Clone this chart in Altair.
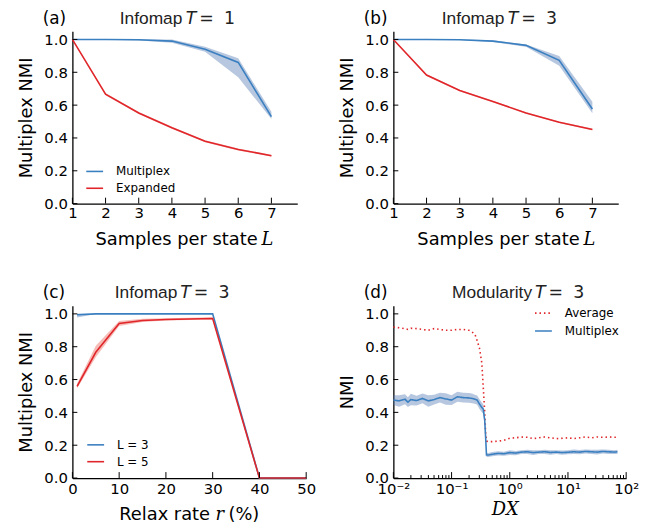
import altair as alt
import pandas as pd

# ---------------- data ----------------
L_VALUES = [1, 2, 3, 4, 5, 6, 7]

A_MULTIPLEX = [1.0, 1.0, 0.998, 0.99, 0.94, 0.86, 0.53]
A_MULTIPLEX_LO = [1.0, 0.998, 0.994, 0.98, 0.925, 0.77, 0.515]
A_MULTIPLEX_HI = [1.0, 1.0, 1.0, 1.0, 0.955, 0.885, 0.56]
A_EXPANDED = [1.0, 0.667, 0.552, 0.462, 0.38, 0.33, 0.292]
A_EXPANDED_LO = [1.0, 0.66, 0.546, 0.456, 0.374, 0.324, 0.287]
A_EXPANDED_HI = [1.0, 0.672, 0.558, 0.468, 0.386, 0.336, 0.297]

B_MULTIPLEX = [1.0, 1.0, 0.998, 0.99, 0.964, 0.873, 0.576]
B_MULTIPLEX_LO = [1.0, 0.999, 0.996, 0.985, 0.955, 0.84, 0.55]
B_MULTIPLEX_HI = [1.0, 1.0, 1.0, 0.995, 0.97, 0.9, 0.62]
B_EXPANDED = [1.0, 0.783, 0.689, 0.622, 0.552, 0.496, 0.452]
B_EXPANDED_LO = [1.0, 0.778, 0.684, 0.617, 0.547, 0.491, 0.447]
B_EXPANDED_HI = [1.0, 0.788, 0.694, 0.627, 0.557, 0.501, 0.457]

R_VALUES = [1, 5, 10, 15, 20, 25, 30, 40, 50]
C_L3 = [0.995, 1.0, 1.0, 1.0, 1.0, 1.0, 1.0, 0.0, 0.0]
C_L3_LO = [0.978, 0.999, 1.0, 1.0, 1.0, 1.0, 1.0, 0.0, 0.0]
C_L3_HI = [1.0, 1.0, 1.0, 1.0, 1.0, 1.0, 1.0, 0.0, 0.0]
C_L5 = [0.559, 0.766, 0.942, 0.96, 0.966, 0.969, 0.972, 0.0, 0.0]
C_L5_LO = [0.545, 0.736, 0.926, 0.95, 0.96, 0.963, 0.965, 0.0, 0.0]
C_L5_HI = [0.575, 0.806, 0.956, 0.97, 0.974, 0.977, 0.98, 0.0, 0.0]

DX_EXP = [-2.0, -1.9, -1.8, -1.75, -1.7, -1.6, -1.5, -1.4, -1.3, -1.2, -1.1, -1.0,
          -0.9, -0.8, -0.7, -0.65, -0.6, -0.56, -0.52, -0.48, -0.455, -0.43, -0.415,
          -0.4, -0.37, -0.3, -0.2, -0.1, 0.0, 0.1, 0.2, 0.3, 0.4, 0.5, 0.6, 0.7, 0.8,
          0.9, 1.0, 1.1, 1.2, 1.3, 1.4, 1.5, 1.6, 1.7, 1.8, 1.85]
D_AVERAGE = [0.92, 0.915, 0.91, 0.905, 0.912, 0.91, 0.905, 0.9, 0.91, 0.905, 0.9, 0.9,
             0.905, 0.905, 0.9, 0.89, 0.877, 0.837, 0.79, 0.70, 0.55, 0.40, 0.277,
             0.225, 0.222, 0.222, 0.225, 0.23, 0.243, 0.245, 0.25, 0.248, 0.24, 0.245,
             0.25, 0.245, 0.24, 0.242, 0.245, 0.24, 0.245, 0.25, 0.245, 0.25, 0.248,
             0.25, 0.248, 0.25]
D_MULTIPLEX = [0.475, 0.47, 0.48, 0.462, 0.478, 0.472, 0.485, 0.47, 0.478, 0.49, 0.482,
               0.475, 0.495, 0.49, 0.488, 0.485, 0.48, 0.475, 0.45, 0.43, 0.42, 0.35,
               0.25, 0.14, 0.14, 0.145, 0.15, 0.148, 0.155, 0.152, 0.158, 0.16, 0.155,
               0.158, 0.16, 0.156, 0.158, 0.155, 0.157, 0.16, 0.158, 0.162, 0.16, 0.158,
               0.162, 0.16, 0.158, 0.16]
D_MULTIPLEX_ERR = [0.03, 0.035, 0.03, 0.03, 0.035, 0.03, 0.03, 0.035, 0.03, 0.03, 0.035,
                   0.03, 0.03, 0.03, 0.03, 0.03, 0.028, 0.028, 0.03, 0.03, 0.03, 0.03,
                   0.02, 0.012, 0.012, 0.013, 0.013, 0.012, 0.014, 0.013, 0.012, 0.013,
                   0.014, 0.012, 0.013, 0.014, 0.012, 0.013, 0.012, 0.014, 0.013, 0.012,
                   0.013, 0.014, 0.012, 0.013, 0.012, 0.013]

Y_TICKS = [0.0, 0.2, 0.4, 0.6, 0.8, 1.0]
X_TICKS_L = [1, 2, 3, 4, 5, 6, 7]
X_TICKS_R = [0, 10, 20, 30, 40, 50]
X_TICKS_DX_MAJOR = [0.01, 0.1, 1, 10, 100]
X_TICKS_DX_MINOR = [m * d for d in [0.01, 0.1, 1, 10] for m in range(2, 10)]

# ---------------- style ----------------
FONT = "DejaVu Sans"
SERIF = "DejaVu Serif"
TFONT = "Liberation Sans"
BLUE = "#3a7fc0"
RED = "#e0262a"
BLUE_BAND = "#4c72b0"
RED_BAND = "#e8584a"
W_L, W_R, W_D = 227, 236, 235
H = 174
YSCALE = alt.Scale(domain=[0, 1.05], nice=False, zero=False)
ONE = pd.DataFrame({"k": [0]})


def frame(xs, series):
    rows = []
    for name, (mid, lo, hi) in series:
        for x, m, l, h in zip(xs, mid, lo, hi):
            rows.append({"x": x, "y": m, "lo": l, "hi": h, "series": name})
    return pd.DataFrame(rows)


def txt(text, x, y, size=18, font=FONT, style="normal", align="left", color="black"):
    return alt.Chart(ONE).mark_text(
        text=text, align=align, baseline="alphabetic", fontSize=size, font=font,
        fontStyle=style, color=color
    ).encode(x=alt.value(x), y=alt.value(y))


def title_parts(letter, word, word_right, t_x, num):
    y = -7.5
    return [
        txt(letter, -30, y, size=17),
        txt(word, word_right, y, size=17.5, font=TFONT, align="right", color="#222"),
        txt("T", t_x, y, size=17.5, style="italic", color="#222"),
        txt("=", t_x + 13.5, y, size=17.5, color="#222"),
        txt(num, t_x + 38.5, y, size=17.5, color="#222"),
    ]


def legend(lx, ly, row_pad=1):
    return alt.Legend(title=None, orient="none", legendX=lx, legendY=ly,
                      symbolType="stroke", symbolSize=289, symbolStrokeWidth=1.6,
                      labelFontSize=12, labelFont=FONT, labelColor="black",
                      labelOffset=12, rowPadding=row_pad)


def panel(df, order, colors, bcolors, xscale, xaxis, width, leg, xticks, texts,
          y_title="Multiplex NMI", dash=None, minor_ticks=None):
    yaxis = alt.Axis(title=y_title, values=Y_TICKS, format=".1f",
                     labelPadding=5, titlePadding=8, labelOverlap=False)
    base = alt.Chart(df)
    layers = []
    for name, bc in zip(order, bcolors):
        if bc is None:
            continue
        layers.append(base.mark_area(opacity=0.4, color=bc)
                      .transform_filter(alt.datum.series == name).encode(
            x=alt.X("x:Q", scale=xscale, axis=xaxis),
            y=alt.Y("lo:Q", scale=YSCALE, axis=yaxis),
            y2="hi:Q"))
    enc = dict(
        x=alt.X("x:Q", scale=xscale, axis=xaxis),
        y=alt.Y("y:Q", scale=YSCALE, axis=yaxis),
        color=alt.Color("series:N", scale=alt.Scale(domain=order, range=colors), legend=leg),
    )
    if dash is not None:
        enc["strokeDash"] = alt.StrokeDash("series:N", scale=alt.Scale(domain=order, range=dash),
                                           legend=leg)
    layers.append(base.mark_line(strokeWidth=1.6).encode(**enc))
    layers.append(alt.Chart(pd.DataFrame({"v": Y_TICKS})).mark_rule(
        color="black", strokeWidth=1).encode(
        y=alt.Y("v:Q", scale=YSCALE, axis=yaxis), x=alt.value(0), x2=alt.value(5)))
    layers.append(alt.Chart(pd.DataFrame({"v": xticks})).mark_rule(
        color="black", strokeWidth=1).encode(
        x=alt.X("v:Q", scale=xscale, axis=xaxis), y=alt.value(H), y2=alt.value(H - 6)))
    if minor_ticks is not None:
        layers.append(alt.Chart(pd.DataFrame({"v": minor_ticks})).mark_rule(
            color="black", strokeWidth=1).encode(
            x=alt.X("v:Q", scale=xscale, axis=xaxis), y=alt.value(H), y2=alt.value(H - 3)))
    layers += texts
    return alt.layer(*layers).properties(width=width, height=H)


# ---------------- panels ----------------
L_SCALE = alt.Scale(domain=[1, 7.78], nice=False, zero=False)
L_AXIS = alt.Axis(title=None, values=X_TICKS_L, format="d", labelOverlap=False, labelPadding=2)

df_a = frame(L_VALUES, [("Multiplex", (A_MULTIPLEX, A_MULTIPLEX_LO, A_MULTIPLEX_HI)),
                        ("Expanded", (A_EXPANDED, A_EXPANDED_LO, A_EXPANDED_HI))])
pa = panel(df_a, ["Multiplex", "Expanded"], [BLUE, RED], [BLUE_BAND, RED_BAND],
           L_SCALE, L_AXIS, W_L, legend(13, 132), X_TICKS_L,
           title_parts("(a)", "Infomap", 111, 114.5, "1")
           + [txt("Samples per state", 187, 216, align="right"),
              txt("L", 191, 216, font=SERIF, style="italic")])

df_b = frame(L_VALUES, [("Multiplex", (B_MULTIPLEX, B_MULTIPLEX_LO, B_MULTIPLEX_HI)),
                        ("Expanded", (B_EXPANDED, B_EXPANDED_LO, B_EXPANDED_HI))])
pb = panel(df_b, ["Multiplex", "Expanded"], [BLUE, RED], [BLUE_BAND, RED_BAND],
           L_SCALE, L_AXIS, W_L, None, X_TICKS_L,
           title_parts("(b)", "Infomap", 112, 115.5, "3")
           + [txt("Samples per state", 188, 216, align="right"),
              txt("L", 192, 216, font=SERIF, style="italic")])

R_SCALE = alt.Scale(domain=[0, 50], nice=False, zero=False)
R_AXIS = alt.Axis(title=None, values=X_TICKS_R, format="d", labelOverlap=False)
df_c = frame(R_VALUES, [("L = 3", (C_L3, C_L3_LO, C_L3_HI)),
                        ("L = 5", (C_L5, C_L5_LO, C_L5_HI))])
pc = panel(df_c, ["L = 3", "L = 5"], [BLUE, RED], [BLUE_BAND, RED_BAND],
           R_SCALE, R_AXIS, W_R, legend(14, 131), X_TICKS_R,
           title_parts("(c)", "Infomap", 106, 109, "3")
           + [txt("Relax rate", 139, 216.5, align="right"),
              txt("r", 144.5, 216.5, font=SERIF, style="italic"),
              txt("(%)", 157.5, 216.5)])

DX_VALUES = [10 ** e for e in DX_EXP]
df_d = pd.concat([
    frame(DX_VALUES, [("Average", (D_AVERAGE, D_AVERAGE, D_AVERAGE))]),
    frame(DX_VALUES, [("Multiplex", (D_MULTIPLEX,
                                     [m - e for m, e in zip(D_MULTIPLEX, D_MULTIPLEX_ERR)],
                                     [m + e for m, e in zip(D_MULTIPLEX, D_MULTIPLEX_ERR)]))]),
], ignore_index=True)
D_SCALE = alt.Scale(type="log", domain=[0.01, 100], nice=False)
D_AXIS = alt.Axis(
    title=None, values=X_TICKS_DX_MAJOR, labelOverlap=False,
    labelExpr="datum.value < 0.05 ? '10⁻²' : datum.value < 0.5 ? '10⁻¹' : "
              "datum.value < 5 ? '10⁰' : datum.value < 50 ? '10¹' : '10²'")
pd_ = panel(df_d, ["Average", "Multiplex"], [RED, BLUE], [None, BLUE_BAND],
            D_SCALE, D_AXIS, W_D, legend(142, -2, row_pad=2), X_TICKS_DX_MAJOR,
            title_parts("(d)", "Modularity", 140, 143, "3")
            + [txt("DX", 113, 211, font=SERIF, style="italic", align="center")],
            y_title="NMI", dash=[[1.5, 3], [1, 0]], minor_ticks=X_TICKS_DX_MINOR)

RES = dict(color="independent", strokeDash="independent")

chart = (
    alt.concat(pa, pb, pc, pd_, columns=2, spacing={"row": 35, "column": 23})
    .resolve_scale(**RES).resolve_legend(**RES)
    .properties(padding={"left": 10, "top": -1, "right": 5, "bottom": 5})
    .configure(font=FONT)
    .configure_view(stroke=None)
    .configure_axis(grid=False, ticks=False, tickSize=0, domainColor="black", domainWidth=1.3,
                    labelColor="black", labelFont=FONT, labelFontSize=15, titleFont=FONT,
                    titleFontSize=18, titleFontWeight="normal", titleColor="black",
                    labelFlush=False, labelOverlap=False, labelPadding=4)
)

chart.save("out.html", embed_options={"renderer": "svg", "actions": False})
